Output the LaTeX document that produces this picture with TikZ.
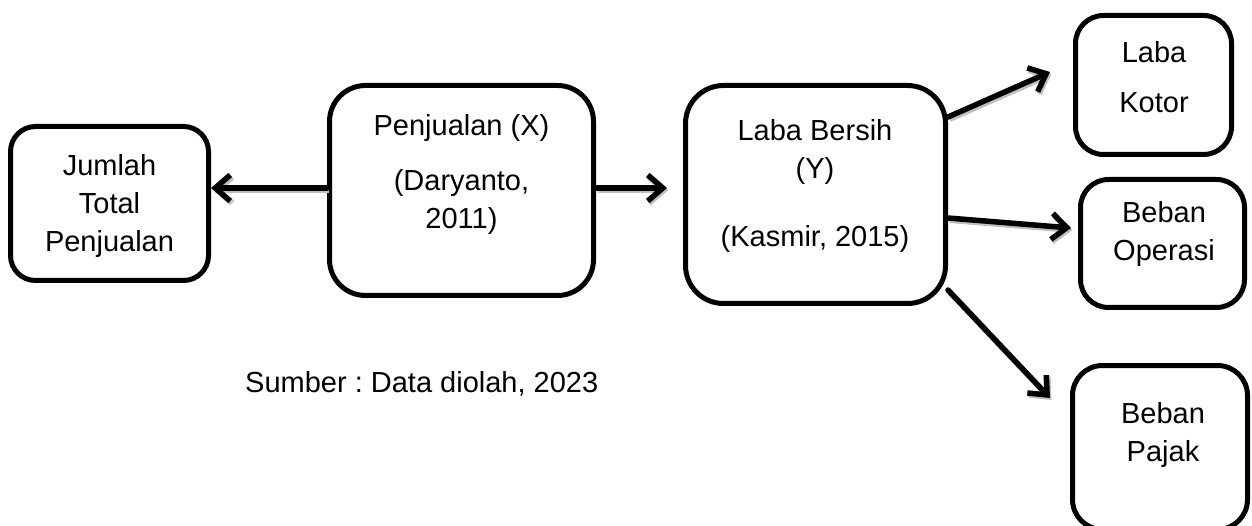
\documentclass[tikz,border=0pt]{standalone}
\usepackage{fontspec}
\setmainfont{Liberation Sans}
\usetikzlibrary{arrows.meta}
\frenchspacing
\begin{document}
\begin{tikzpicture}[x=1pt,y=-1pt,
  box/.style={draw, line width=5pt, rounded corners=#1, inner sep=0pt},
  box/.default=28pt,
  txt/.style={align=center, font=\fontsize{29}{38}\selectfont, inner sep=0pt},
  arr/.style={line width=5.5pt, line cap=round, -{Straight Barb[length=15pt,width=26pt]},
    preaction={draw=black!25, line width=6pt, transform canvas={shift={(1.5pt,-2pt)}}}}]
\useasboundingbox (0,0) rectangle (1252,526);

% boxes
\node[box=25pt, minimum width=198pt, minimum height=154pt] (jum) at (109.5,203.5) {};
\node[box=36pt, minimum width=264pt, minimum height=210pt] (pen) at (461.5,190.5) {};
\node[box=38pt, minimum width=260pt, minimum height=218pt] (laba) at (815.5,194.5) {};
\node[box=28pt, minimum width=156pt, minimum height=139pt] (kot) at (1153.5,85) {};
\node[box=28pt, minimum width=164pt, minimum height=128pt] (ope) at (1162.5,243.5) {};
\node[box=30pt, minimum width=175pt, minimum height=164pt] (paj) at (1160,447.5) {};

% texts
\node[txt] (tjum) at (109.5,206) {Jumlah\\Total\\Penjualan};
\node[txt] (tpen) at (461.5,174) {Penjualan (X)\\[17pt](Daryanto,\\2011)};
\node[txt] (tlaba) at (815,186) {Laba Bersih\\(Y)\\[30pt](Kasmir, 2015)};
\node[txt] (tkot) at (1154,77) {Laba\\[12pt]Kotor};
\node[txt] (tope) at (1164,234.5) {Beban\\Operasi};
\node[txt] (tpaj) at (1163,435.5) {Beban\\Pajak};
\node[txt, anchor=base west] (sumber) at (245,392) {Sumber : Data diolah, 2023};

% arrow ends
\coordinate (a2) at (667,188);
\coordinate (t1) at (1050,72);
\coordinate (t2) at (1071,228);
\coordinate (t3) at (1050,398);

% connectors
\draw[arr] (pen.west |- 0,188) -- (jum.east |- 0,188);
\draw[arr] (pen.east |- 0,188) -- (a2);
\draw[arr] (laba.east |- 0,117) -- (t1);
\draw[arr] (laba.east |- 0,218) -- (t2);
\draw[arr] (laba.east |- 0,290) -- (t3);
\end{tikzpicture}
\end{document}
